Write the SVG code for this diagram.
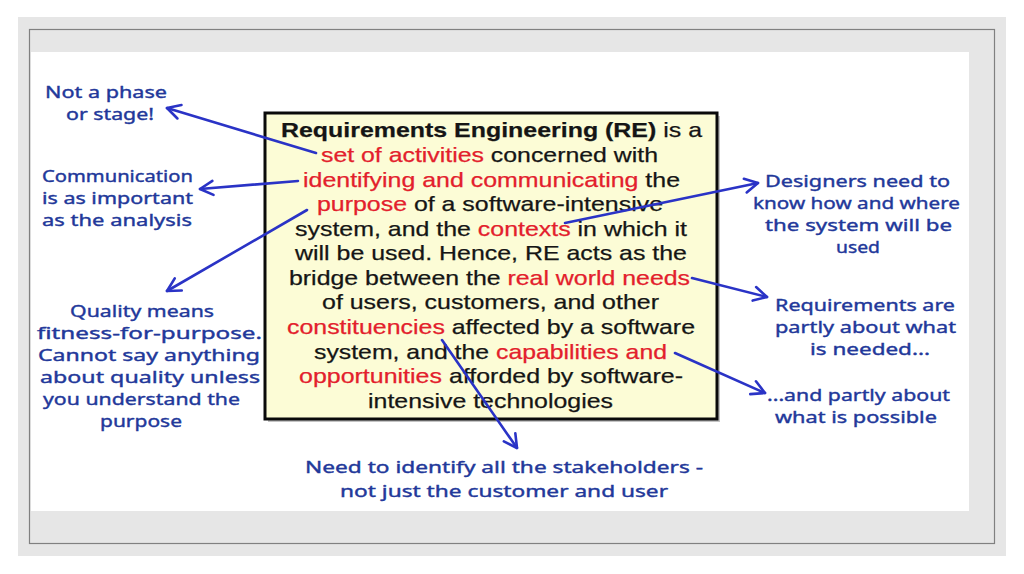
<svg xmlns="http://www.w3.org/2000/svg" width="1024" height="574" viewBox="0 0 1024 574">
<style>
.box{font-family:"Liberation Sans",Arial,sans-serif;font-size:21px;fill:#151515;stroke:#151515;stroke-width:0.25;}
.b{font-weight:bold;}
.r{fill:#e3202c;stroke:#e3202c;}
.note{font-family:"Noto Sans","DejaVu Sans",sans-serif;font-size:17px;fill:#22389a;stroke:#22389a;stroke-width:0.4;}
.arrow{stroke:#2a33c6;stroke-width:2.6;fill:none;stroke-linecap:round;}
</style>
<defs>
<marker id="ah" markerUnits="userSpaceOnUse" markerWidth="20" markerHeight="20" refX="0" refY="0" viewBox="-16 -10 20 20" orient="auto">
<path d="M -13 -7 L 0 0 L -13 7" stroke="#2a33c6" stroke-width="2.6" fill="none" stroke-linecap="round" stroke-linejoin="round"/>
</marker>
</defs>
<rect width="1024" height="574" fill="#ffffff"/>
<rect x="18" y="17" width="988" height="539" fill="#e6e6e6"/>
<rect x="29.5" y="29.5" width="965" height="514" fill="#e6e6e6" stroke="#808080" stroke-width="1.2"/>
<rect x="31" y="52" width="938" height="459" fill="#ffffff"/>

<g id="main-box">
<rect x="268" y="116" width="452" height="306" fill="#c4c4c4"/>
<rect x="265" y="113" width="452" height="306" fill="#fcfcd6" stroke="#0a0a0a" stroke-width="3"/>
<text class="box" x="281" y="137" textLength="421" lengthAdjust="spacingAndGlyphs"><tspan class="b">Requirements Engineering (RE)</tspan> is a</text>
<text class="box" x="321" y="162" textLength="337" lengthAdjust="spacingAndGlyphs"><tspan class="r">set of activities</tspan> concerned with</text>
<text class="box" x="303" y="186.5" textLength="377" lengthAdjust="spacingAndGlyphs"><tspan class="r">identifying and communicating</tspan> the</text>
<text class="box" x="317" y="211" textLength="346" lengthAdjust="spacingAndGlyphs"><tspan class="r">purpose</tspan> of a software-intensive</text>
<text class="box" x="295" y="235.5" textLength="392" lengthAdjust="spacingAndGlyphs">system, and the <tspan class="r">contexts</tspan> in which it</text>
<text class="box" x="295" y="260" textLength="392" lengthAdjust="spacingAndGlyphs">will be used. Hence, RE acts as the</text>
<text class="box" x="289" y="284.5" textLength="401" lengthAdjust="spacingAndGlyphs">bridge between the <tspan class="r">real world needs</tspan></text>
<text class="box" x="322" y="309" textLength="337" lengthAdjust="spacingAndGlyphs">of users, customers, and other</text>
<text class="box" x="287" y="334" textLength="408" lengthAdjust="spacingAndGlyphs"><tspan class="r">constituencies</tspan> affected by a software</text>
<text class="box" x="314" y="358.5" textLength="353" lengthAdjust="spacingAndGlyphs">system, and the <tspan class="r">capabilities and</tspan></text>
<text class="box" x="299" y="383" textLength="384" lengthAdjust="spacingAndGlyphs"><tspan class="r">opportunities</tspan> afforded by software-</text>
<text class="box" x="368" y="407.5" textLength="245" lengthAdjust="spacingAndGlyphs">intensive technologies</text>
</g>

<g id="note-phase">
<text class="note" x="45" y="98" textLength="122" lengthAdjust="spacingAndGlyphs">Not a phase</text>
<text class="note" x="66" y="120" textLength="88" lengthAdjust="spacingAndGlyphs">or stage!</text>
</g>
<g id="note-communication">
<text class="note" x="42" y="182" textLength="151" lengthAdjust="spacingAndGlyphs">Communication</text>
<text class="note" x="42" y="204" textLength="151" lengthAdjust="spacingAndGlyphs">is as important</text>
<text class="note" x="42" y="226" textLength="150" lengthAdjust="spacingAndGlyphs">as the analysis</text>
</g>
<g id="note-quality">
<text class="note" x="70" y="317" textLength="144" lengthAdjust="spacingAndGlyphs">Quality means</text>
<text class="note" x="37" y="339" textLength="225" lengthAdjust="spacingAndGlyphs">fitness-for-purpose.</text>
<text class="note" x="38" y="361" textLength="222" lengthAdjust="spacingAndGlyphs">Cannot say anything</text>
<text class="note" x="40" y="383" textLength="220" lengthAdjust="spacingAndGlyphs">about quality unless</text>
<text class="note" x="43" y="405" textLength="197" lengthAdjust="spacingAndGlyphs">you understand the</text>
<text class="note" x="100" y="427" textLength="82" lengthAdjust="spacingAndGlyphs">purpose</text>
</g>
<g id="note-designers">
<text class="note" x="765" y="187" textLength="185" lengthAdjust="spacingAndGlyphs">Designers need to</text>
<text class="note" x="753" y="209" textLength="207" lengthAdjust="spacingAndGlyphs">know how and where</text>
<text class="note" x="765" y="231" textLength="187" lengthAdjust="spacingAndGlyphs">the system will be</text>
<text class="note" x="836" y="253" textLength="44" lengthAdjust="spacingAndGlyphs">used</text>
</g>
<g id="note-needed">
<text class="note" x="775" y="311" textLength="180" lengthAdjust="spacingAndGlyphs">Requirements are</text>
<text class="note" x="775" y="333" textLength="181" lengthAdjust="spacingAndGlyphs">partly about what</text>
<text class="note" x="810" y="355" textLength="120" lengthAdjust="spacingAndGlyphs">is needed...</text>
</g>
<g id="note-possible">
<text class="note" x="767" y="401" textLength="183" lengthAdjust="spacingAndGlyphs">...and partly about</text>
<text class="note" x="775" y="423" textLength="162" lengthAdjust="spacingAndGlyphs">what is possible</text>
</g>
<g id="note-stakeholders">
<text class="note" x="305" y="473" textLength="398" lengthAdjust="spacingAndGlyphs">Need to identify all the stakeholders -</text>
<text class="note" x="340" y="497" textLength="328" lengthAdjust="spacingAndGlyphs">not just the customer and user</text>
</g>

<g id="connectors">
<line class="arrow" x1="316" y1="153" x2="167" y2="108" marker-end="url(#ah)"/>
<line class="arrow" x1="298" y1="181" x2="200" y2="189" marker-end="url(#ah)"/>
<line class="arrow" x1="307" y1="210" x2="167" y2="291" marker-end="url(#ah)"/>
<line class="arrow" x1="565" y1="223" x2="758" y2="183" marker-end="url(#ah)"/>
<line class="arrow" x1="692" y1="278" x2="767" y2="297" marker-end="url(#ah)"/>
<line class="arrow" x1="675" y1="353" x2="765" y2="393" marker-end="url(#ah)"/>
<line class="arrow" x1="442" y1="340" x2="517" y2="448" marker-end="url(#ah)"/>
</g>
</svg>
